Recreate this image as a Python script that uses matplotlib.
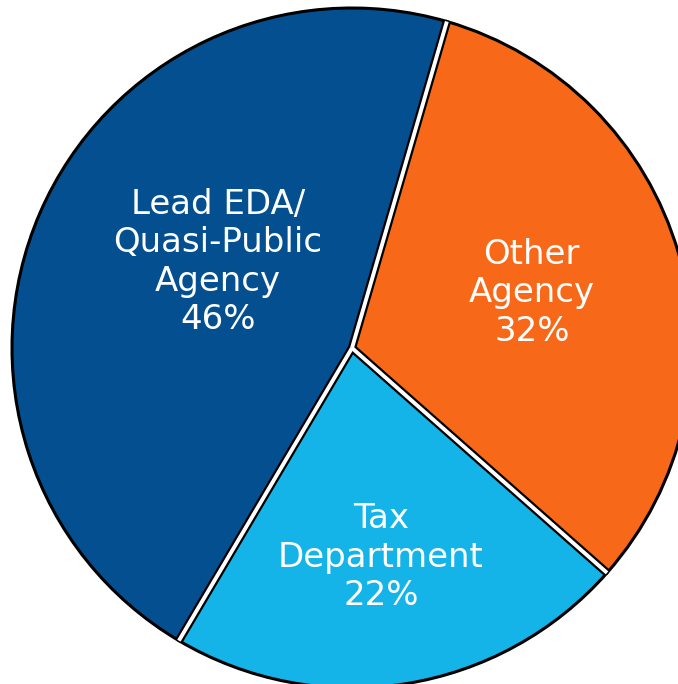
import numpy as np
import matplotlib.pyplot as plt

# 資料
labels = ["Other\nAgency", "Tax\nDepartment", "Lead EDA/\nQuasi-Public\nAgency"]
shares = [32, 22, 46]
colors = ["#f76918", "#14b4e8", "#044f90"]

fig = plt.figure(figsize=(6.78, 6.84), dpi=100)
ax = fig.add_axes([12 / 678, -4 / 684, 680 / 678, 680 / 684])

start = 73.8  # 第一塊從這裡開始，順時針
wedges, _ = ax.pie(shares, colors=colors, startangle=start, counterclock=False,
                   radius=1, wedgeprops=dict(edgecolor="black", linewidth=2.2))

# 分隔線：黑-白-黑
angles = start - np.cumsum([0] + shares[:-1]) / 100 * 360
for a in angles:
    t = np.deg2rad(a)
    ax.plot([0, np.cos(t)], [0, np.sin(t)], color="black", lw=6,
            solid_capstyle="butt", zorder=3)
    ax.plot([0, np.cos(t)], [0, np.sin(t)], color="white", lw=2.8,
            solid_capstyle="butt", zorder=4)

# 標籤位置
text_pos = [(0.529, 0.162), (0.085, -0.615), (-0.394, 0.253)]
for lab, s, (x, y) in zip(labels, shares, text_pos):
    ax.text(x, y, f"{lab}\n{s}%", ha="center", va="center", color="white",
            fontsize=24.5, family="DejaVu Sans", linespacing=1.2, zorder=5)

ax.set_xlim(-1, 1)
ax.set_ylim(-1, 1)
ax.axis("off")
fig.savefig("out.png", dpi=100)
